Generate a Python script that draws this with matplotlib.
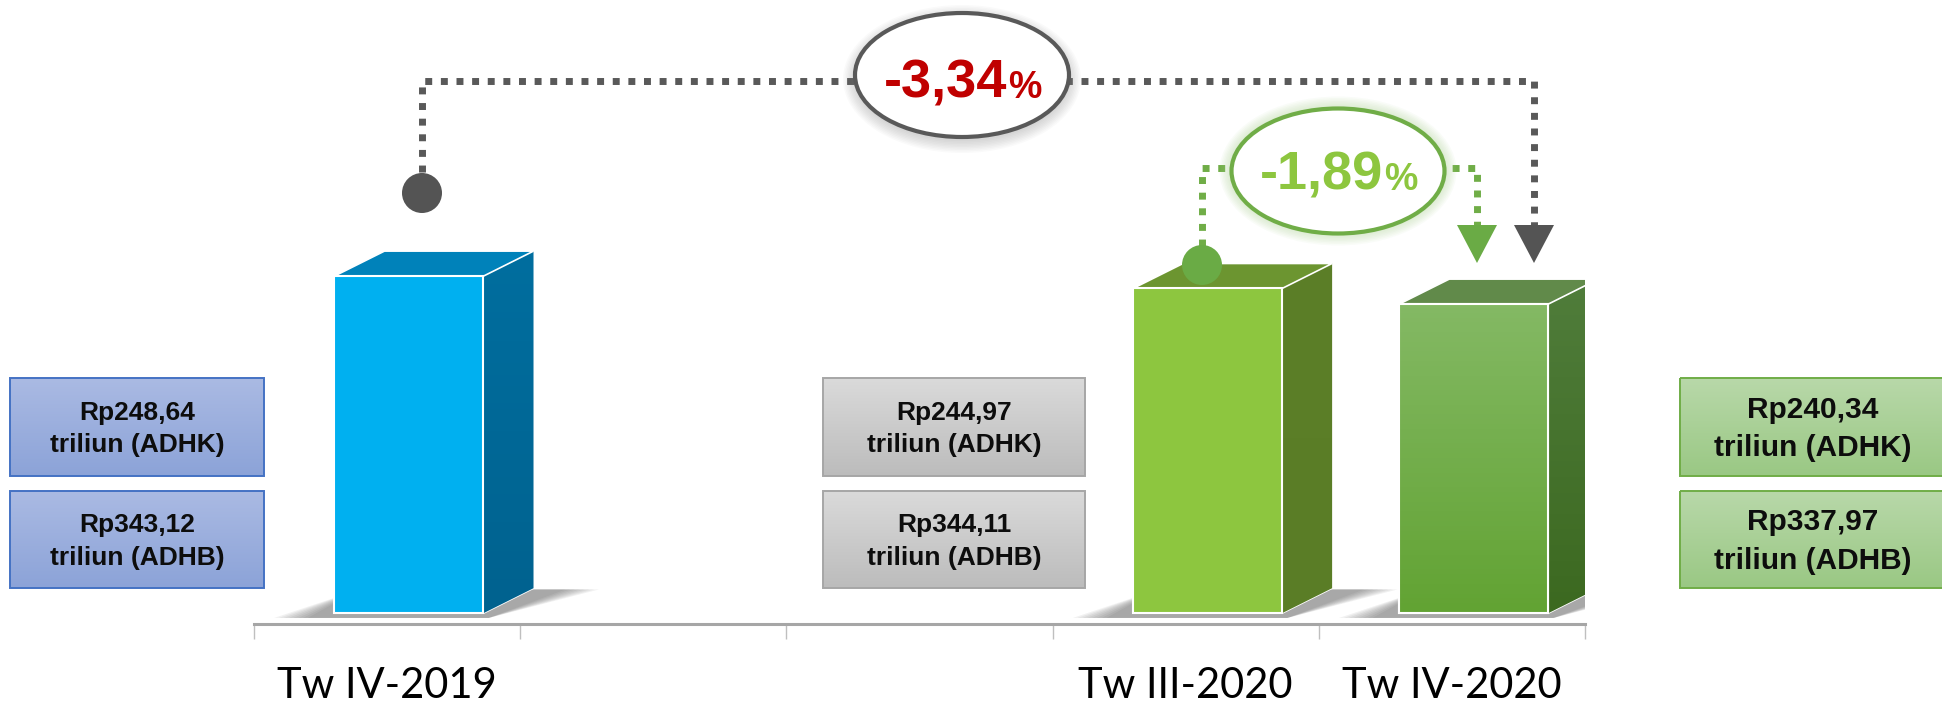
import numpy as np
import matplotlib
matplotlib.use('Agg')
import matplotlib.pyplot as plt
from matplotlib import font_manager
from matplotlib.patches import Polygon, Ellipse, Rectangle, Circle
from matplotlib.colors import to_rgb

# data (triliun rupiah)
slots = ['Tw IV-2019', '', '', 'Tw III-2020', 'Tw IV-2020']
quarters = ['Tw IV-2019', 'Tw III-2020', 'Tw IV-2020']
adhk = [248.64, 244.97, 240.34]
adhb = [343.12, 344.11, 337.97]
growth_yoy = -3.34   # Tw IV-2020 vs Tw IV-2019
growth_qtq = -1.89   # Tw IV-2020 vs Tw III-2020

names = {f.name for f in font_manager.fontManager.ttflist}
narrow = 'Liberation Sans Narrow' if 'Liberation Sans Narrow' in names else 'Liberation Sans'
label_font = 'Lato' if 'Lato' in names else 'DejaVu Sans'

W, H = 1942, 705
fig = plt.figure(figsize=(W / 100, H / 100), dpi=100)
fig.patch.set_facecolor('white')

# main axes: category slots on x, value on y
ax = fig.add_axes([254 / W, (H - 624) / H, (1585 - 254) / W, 624 / H])
ax.set_xlim(-0.5, 4.5)
ax.set_ylim(145.5, 330.5)
ax.patch.set_alpha(0)
for s in ['top', 'left', 'right']:
    ax.spines[s].set_visible(False)
ax.spines['bottom'].set_color('#A6A6A6')
ax.spines['bottom'].set_linewidth(2.2)
ax.set_yticks([])
ax.set_xticks(np.arange(-0.5, 5, 1))
ax.set_xticklabels([])
ax.tick_params(axis='x', which='major', length=11, width=1, color='#BFBFBF')
ax.set_xticks(range(len(slots)), slots, minor=True)
ax.tick_params(axis='x', which='minor', length=0, pad=31, labelsize=30)
for t in ax.get_xticklabels(minor=True):
    t.set_fontfamily(label_font)

ppu = 624 / (330.5 - 145.5)   # pixels per value unit
FLOOR = 148.7
OFF, BW, DX, DY = 0.082, 0.56, 0.188, 25 / ppu

styles = [
    dict(front=('#00B0F0', '#00B0F0'), side=('#006E9F', '#00628F'), top='#0082BA'),
    dict(front=('#8DC63F', '#8DC63F'), side=('#5C7F28', '#5A7D26'), top='#6C9530'),
    dict(front=('#84B964', '#62A333'), side=('#507D3B', '#3C6920'), top='#618A4A'),
]


def grad(c1, c2, n=64):
    a, b = np.array(to_rgb(c1)), np.array(to_rgb(c2))
    t = np.linspace(0, 1, n)[:, None]
    return (a * (1 - t) + b * t)[:, None, :]


for q, v, st in zip(quarters, adhk, styles):
    xc = slots.index(q) + OFF
    l, r = xc - BW / 2, xc + BW / 2
    # soft floor shadow
    for k in range(8):
        e = 0.018 * (7 - k)
        sh = Polygon([(l - 0.10 - e, FLOOR - 1.4), (r + 0.02, FLOOR - 1.4),
                      (r + DX + 0.12 + e, FLOOR + DY * 0.95), (l + DX * 0.5, FLOOR + DY * 0.95)],
                     closed=True, fc='#404040', ec='none', alpha=0.07, zorder=2)
        ax.add_patch(sh)
    bar = ax.bar(xc, v - FLOOR, bottom=FLOOR, width=BW, color=st['front'][0],
                 edgecolor='white', linewidth=1.5, zorder=4)[0]
    if st['front'][0] != st['front'][1]:
        im = ax.imshow(grad(*st['front']), extent=(l, r, FLOOR, v), aspect='auto', zorder=4.1)
        im.set_clip_path(bar)
        ax.add_patch(Rectangle((l, FLOOR), BW, v - FLOOR, fc='none', ec='white', lw=1.5, zorder=4.2))
    side = Polygon([(r, FLOOR), (r + DX, FLOOR + DY), (r + DX, v + DY), (r, v)],
                   closed=True, fc=st['side'][0], ec='white', lw=1.2, zorder=3)
    ax.add_patch(side)
    if st['side'][0] != st['side'][1]:
        im = ax.imshow(grad(*st['side']), extent=(r, r + DX, FLOOR, v + DY), aspect='auto', zorder=3.1)
        im.set_clip_path(side)
    top = Polygon([(l, v), (r, v), (r + DX, v + DY), (l + DX, v + DY)],
                  closed=True, fc=st['top'], ec='white', lw=1.2, zorder=3.5)
    ax.add_patch(top)
ax.set_xlim(-0.5, 4.5)
ax.set_ylim(145.5, 330.5)

# overlay in pixel units for the callouts and value boxes
ov = fig.add_axes([0, 0, 1, 1], zorder=5)
ov.set_axis_off()
ov.patch.set_alpha(0)


def box(x0, y0, x1, y1, c1, c2, ec, text, size, ls):
    ov.imshow(grad(c1, c2), extent=(x0, x1, y1, y0), aspect='auto', zorder=2)
    ov.add_patch(Rectangle((x0, y0), x1 - x0, y1 - y0, fc='none', ec=ec, lw=1.4, zorder=3))
    ov.text((x0 + x1) / 2, (y0 + y1) / 2 + 2, text, ha='center', va='center', fontsize=size,
            fontweight='bold', family='Liberation Sans', color='#0D0D0D', linespacing=ls, zorder=4)


def fmt(v):
    return f'{v:.2f}'.replace('.', ',')


box_cols = [
    (10, 264, '#AABAE3', '#8CA3D8', '#4472C4', 19, 1.45),
    (823, 1085, '#DADADA', '#BCBCBC', '#A6A6A6', 19, 1.45),
    (1680, 1946, '#B8D8A9', '#9AC884', '#70AD47', 21.5, 1.5),
]
for (x0, x1, c1, c2, ec, fs, ls), k, b in zip(box_cols, adhk, adhb):
    box(x0, 378, x1, 476, c1, c2, ec, f'Rp{fmt(k)}\ntriliun (ADHK)', fs, ls)
    box(x0, 491, x1, 588, c1, c2, ec, f'Rp{fmt(b)}\ntriliun (ADHB)', fs, ls)

# callout connectors
gray, green = '#595959', '#70AD47'
dash = (0, (1, 1.25))
ov.plot([422, 422, 1534, 1534], [172, 81, 81, 226], color=gray, lw=5, ls=dash,
        dash_capstyle='butt', zorder=2)
ov.add_patch(Circle((422, 193), 20, fc='#545454', ec='none', zorder=3))
ov.add_patch(Polygon([(1514, 225), (1554, 225), (1534, 263)], closed=True, fc='#545454', ec='none', zorder=3))

ov.plot([1202, 1202, 1477, 1477], [246, 168, 168, 226], color=green, lw=5, ls=dash,
        dash_capstyle='butt', zorder=2)
ov.add_patch(Circle((1202, 265), 20, fc='#6AAB45', ec='none', zorder=3))
ov.add_patch(Polygon([(1457, 225), (1497, 225), (1477, 263)], closed=True, fc='#6AAB45', ec='none', zorder=3))

# ellipses with soft shadow / glow
for k in range(9):
    ov.add_patch(Ellipse((962, 79), 214 + 3 * k, 124 + 3 * k, fc='#808080', ec='none', alpha=0.04, zorder=3))
ov.add_patch(Ellipse((962, 75), 214, 124, fc='white', ec=gray, lw=3, zorder=4))
for k in range(9):
    ov.add_patch(Ellipse((1338, 171), 213 + 3 * k, 125 + 3 * k, fc='#A9D18E', ec='none', alpha=0.06, zorder=3))
ov.add_patch(Ellipse((1338, 171), 213, 125, fc='white', ec=green, lw=3, zorder=4))

big = 45 if narrow.endswith('Narrow') else 39
small = 31 if narrow.endswith('Narrow') else 27
renderer = fig.canvas.get_renderer()


def pct(cx, base, v, color):
    num = ov.text(0, base, fmt(v), fontsize=big, fontweight='bold', family=narrow,
                  color=color, ha='left', va='baseline', zorder=5)
    pc = ov.text(0, base, '%', fontsize=small, fontweight='bold', family=narrow,
                 color=color, ha='left', va='baseline', zorder=5)
    w1 = num.get_window_extent(renderer).width
    w2 = pc.get_window_extent(renderer).width
    x0 = cx - (w1 + w2) / 2
    num.set_x(x0)
    pc.set_x(x0 + w1 + 1)


pct(962, 98, growth_yoy, '#C00000')
pct(1338, 190, growth_qtq, '#8DC63F')

ov.set_xlim(0, W)
ov.set_ylim(H, 0)

fig.savefig('out.png', dpi=100, facecolor='white')
